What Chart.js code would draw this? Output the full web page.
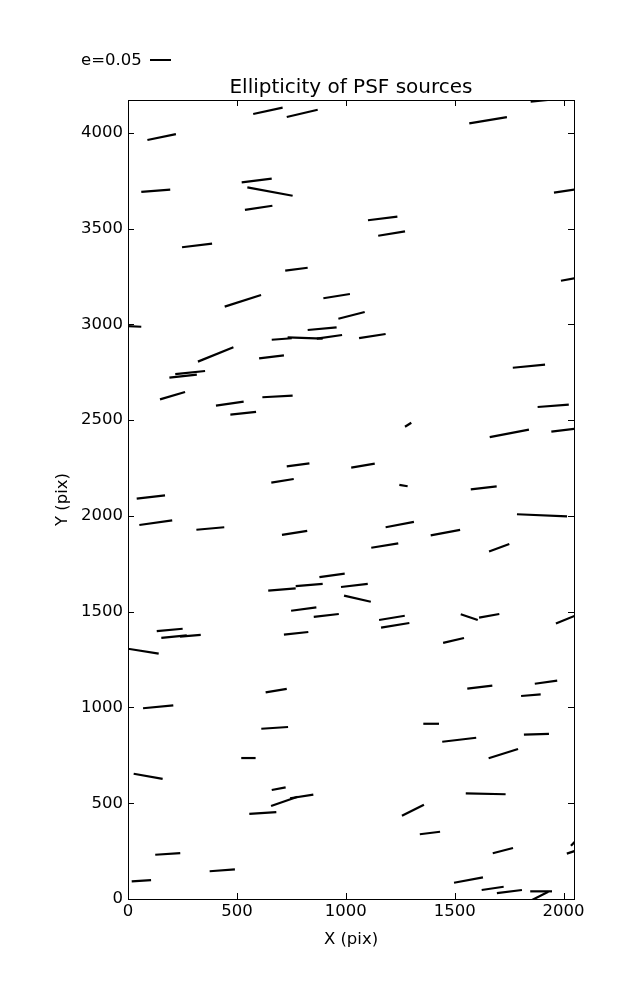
<!DOCTYPE html>
<html>
<head>
<meta charset="utf-8">
<script src="https://cdn.jsdelivr.net/npm/chart.js@4/dist/chart.umd.min.js"></script>
<style>
  html, body { margin: 0; padding: 0; background: #fff; }
  #wrap { width: 637px; height: 1000px; }
</style>
</head>
<body>
<div id="wrap"><canvas id="chart" width="637" height="1000"></canvas></div>
<script>
// whisker end points, in detector pixels (start x/y, end x/y)
const x0 = [575, 729, 89, 522, 548, 61, 537, 248, 722, 444, 897, 1849, 1567, 1956, 1102, 1149, 1988, 966, -55, 825,
            660, 733, 867, 321, 602, 217, 190, 147, 404, 470, 617, 1061, 1767, 1881, 1272, 1661, 1944, 729, 658, 1025,
            1246, 1574, 40, 52, 314, 707, 879, 644, 770, 978, 992, 749, 853, 132, 153, 239, 716, -18, 632, 1786,
            1183, 1390, 1117, 1658, 1153, 1162, 1528, 1612, 1965, 1447, 1558, 1868, 1805, 69, 612, 520, 26, 660, 657, 744,
            557, 125, 375, 17, 1356, 1818, 1443, 1656, 1551, 1258, 1340, 1675, 2015, 2034, 1497, 1624, 1694, 1847, 1837];
const y0 = [4099, 4083, 3963, 3742, 3716, 3692, 3598, 3403, 3281, 3093, 3137, 4163, 4050, 3688, 3544, 3463, 3228, 3030, 2994, 2971,
            2920, 2933, 2926, 2806, 2823, 2741, 2722, 2609, 2576, 2529, 2620, 2929, 2774, 2569, 2466, 2412, 2440, 2259, 2174, 2252,
            2162, 2139, 2091, 1953, 1928, 1901, 1681, 1610, 1634, 1629, 1584, 1505, 1473, 1399, 1363, 1370, 1380, 1310, 1079, 2009,
            1941, 1899, 1834, 1814, 1457, 1417, 1487, 1469, 1438, 1337, 1098, 1124, 1060, 996, 889, 736, 654, 569, 486, 526,
            444, 231, 145, 92, 915, 858, 821, 735, 552, 435, 338, 239, 237, 278, 85, 47, 31, 40, -16];
const x1 = [710, 871, 220, 660, 756, 194, 663, 386, 825, 611, 1019, 1993, 1740, 2094, 1237, 1272, 2099, 1087, 61, 958,
            752, 894, 983, 484, 716, 354, 316, 262, 531, 588, 756, 1183, 1915, 2024, 1301, 1841, 2099, 833, 761, 1133,
            1284, 1693, 170, 203, 442, 823, 995, 770, 894, 1101, 1115, 865, 968, 251, 270, 334, 828, 141, 729, 2016,
            1313, 1525, 1241, 1751, 1271, 1292, 1606, 1705, 2099, 1543, 1673, 1971, 1895, 208, 735, 586, 159, 724, 779, 851,
            681, 240, 491, 106, 1428, 1933, 1599, 1791, 1734, 1359, 1433, 1768, 2099, 2081, 1630, 1725, 1809, 1947, 1930];
const y1 = [4132, 4121, 3994, 3761, 3672, 3704, 3620, 3422, 3296, 3154, 3159, 4180, 4083, 3712, 3563, 3486, 3251, 3065, 2988, 2985,
            2928, 2926, 2945, 2881, 2839, 2757, 2738, 2647, 2597, 2544, 2628, 2950, 2790, 2581, 2487, 2451, 2462, 2275, 2193, 2273,
            2155, 2155, 2108, 1977, 1941, 1922, 1699, 1622, 1645, 1645, 1552, 1523, 1488, 1411, 1377, 1379, 1394, 1281, 1097, 1998,
            1969, 1927, 1857, 1854, 1479, 1441, 1457, 1488, 1501, 1363, 1114, 1140, 1068, 1011, 898, 736, 627, 583, 534, 545,
            454, 240, 155, 99, 915, 862, 842, 783, 547, 492, 351, 266, 268, 334, 113, 64, 47, 40, 38];

const xTicks = [0, 500, 1000, 1500, 2000];
const yTicks = [0, 500, 1000, 1500, 2000, 2500, 3000, 3500, 4000];
const xMax = 2048;
const yMax = 4172;

const keyE = 0.05;          // reference ellipticity in the key
const whiskerScale = 1930;  // pixels of whisker per unit of ellipticity

const FONT = "DejaVu Sans";

const datasets = x0.map((_, i) => ({
  data: [{ x: x0[i], y: y0[i] }, { x: x1[i], y: y1[i] }],
  showLine: true,
  borderColor: "#000",
  borderWidth: 2.2,
  borderCapStyle: "butt",
  pointRadius: 0,
  clip: 0,
}));

// frame with inward ticks on all four sides, plus title and key
const framePlugin = {
  id: "frame",
  afterDraw(chart) {
    const { ctx, chartArea: a, scales } = chart;
    const tl = 6;
    ctx.save();
    ctx.strokeStyle = "#000";
    ctx.lineWidth = 1;
    ctx.strokeRect(a.left + 0.5, a.top + 0.5, a.right - a.left, a.bottom - a.top);
    ctx.beginPath();
    xTicks.forEach(v => {
      const px = Math.round(scales.x.getPixelForValue(v)) + 0.5;
      ctx.moveTo(px, a.bottom); ctx.lineTo(px, a.bottom - tl);
      ctx.moveTo(px, a.top); ctx.lineTo(px, a.top + tl);
    });
    yTicks.forEach(v => {
      const py = Math.round(scales.y.getPixelForValue(v)) + 0.5;
      ctx.moveTo(a.left, py); ctx.lineTo(a.left + tl, py);
      ctx.moveTo(a.right, py); ctx.lineTo(a.right - tl, py);
    });
    ctx.stroke();

    ctx.fillStyle = "#000";
    ctx.font = "20px '" + FONT + "'";
    ctx.textAlign = "center";
    ctx.textBaseline = "alphabetic";
    ctx.fillText("Ellipticity of PSF sources", (a.left + a.right) / 2, 93);

    ctx.font = "16.5px '" + FONT + "'";
    ctx.textAlign = "left";
    ctx.fillText("e=" + keyE.toFixed(2), 81, 65);
    const len = scales.x.getPixelForValue(keyE * whiskerScale) - scales.x.getPixelForValue(0);
    ctx.lineWidth = 2;
    ctx.beginPath();
    ctx.moveTo(150, 60);
    ctx.lineTo(150 + len, 60);
    ctx.stroke();
    ctx.restore();
  },
};

new Chart(document.getElementById("chart"), {
  type: "scatter",
  data: { datasets },
  options: {
    responsive: false,
    animation: false,
    devicePixelRatio: 1,
    layout: { padding: { top: 100, right: 63, bottom: 0, left: 0 } },
    plugins: { legend: { display: false }, tooltip: { enabled: false }, title: { display: false } },
    scales: {
      x: {
        type: "linear", min: 0, max: xMax,
        grid: { display: false, drawTicks: false },
        border: { display: false },
        afterBuildTicks(s) { s.ticks = xTicks.map(v => ({ value: v })); },
        ticks: { padding: 3, color: "#000", maxRotation: 0, autoSkip: false,
                 callback: v => String(v),
                 font: { family: FONT, size: 16.5 } },
        title: { display: true, text: "X (pix)", color: "#000", padding: { top: 0, bottom: 50 },
                 font: { family: FONT, size: 16.5 } },
        afterFit(s) { s.height = 101; },
      },
      y: {
        type: "linear", min: 0, max: yMax,
        grid: { display: false, drawTicks: false },
        border: { display: false },
        afterBuildTicks(s) { s.ticks = yTicks.map(v => ({ value: v })); },
        ticks: { padding: 5, color: "#000", autoSkip: false,
                 callback: v => String(v),
                 font: { family: FONT, size: 16.5 } },
        title: { display: true, text: "Y (pix)", color: "#000", padding: { top: 53, bottom: 0 },
                 font: { family: FONT, size: 16.5 } },
        afterFit(s) { s.width = 128; },
      },
    },
  },
  plugins: [framePlugin],
});
</script>
</body>
</html>
